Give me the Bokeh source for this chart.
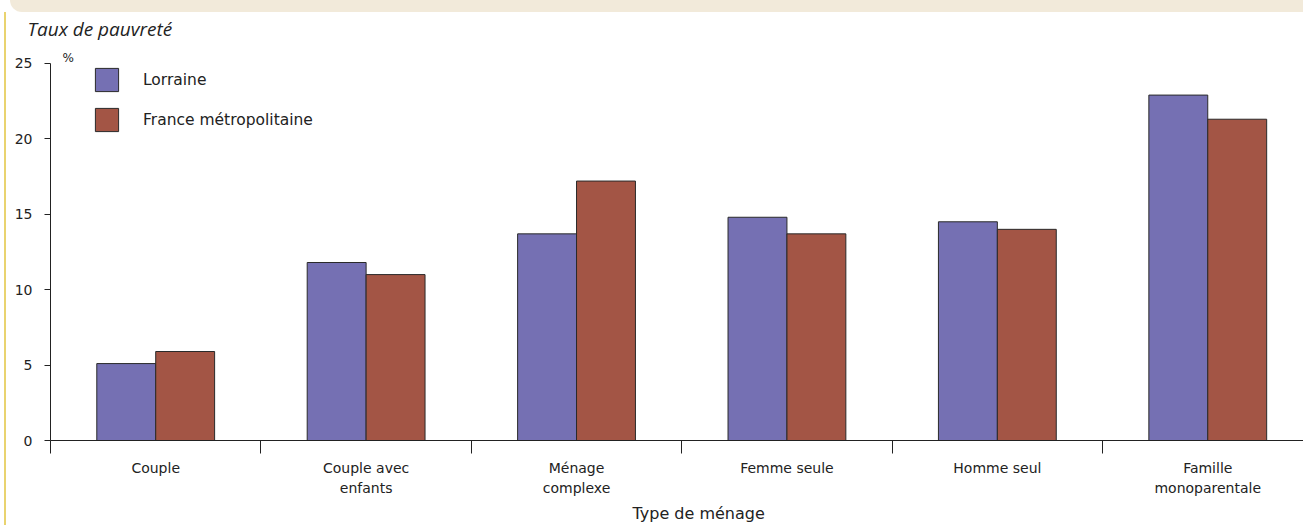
from bokeh.plotting import figure
from bokeh.layouts import column
from bokeh.models import Range1d, FixedTicker, Label, Legend, LegendItem, Title, Div
from bokeh.embed import file_html
from bokeh.resources import INLINE

categories = ["Couple", "Couple avec\nenfants", "Ménage\ncomplexe", "Femme seule", "Homme seul", "Famille\nmonoparentale"]
lorraine = [5.1, 11.8, 13.7, 14.8, 14.5, 22.9]
france = [5.9, 11.0, 17.2, 13.7, 14.0, 21.3]
y_ticks = [0, 5, 10, 15, 20, 25]
series_names = ["Lorraine", "France métropolitaine"]
colors = ["#7570B3", "#A35545"]

FONT = "DejaVu Sans"
TXT = "#222222"

band = Div(text="", width=1293, height=12, margin=(0, 0, 0, 10),
           styles={"background-color": "#F2EADA", "border-bottom-left-radius": "12px"})

p = figure(width=1303, height=513, x_range=Range1d(0, 5.955), y_range=Range1d(0, 26.32),
           output_backend="svg", toolbar_location=None, margin=0,
           min_border_left=50, min_border_right=0, min_border_top=30, min_border_bottom=85)
p.outline_line_color = None
p.xgrid.grid_line_color = None
p.ygrid.grid_line_color = None
p.background_fill_color = "white"
p.border_fill_alpha = 0
p.styles = {"background": "linear-gradient(to right, white 4px, #E9D36F 4px, #E9D36F 6px, white 6px)"}

bw = 0.28
centers = [i + 0.5 for i in range(len(categories))]
r1 = p.vbar(x=[c - bw / 2 for c in centers], top=lorraine, width=bw, bottom=0,
            fill_color=colors[0], line_color="#2a2a2a", line_width=1)
r2 = p.vbar(x=[c + bw / 2 for c in centers], top=france, width=bw, bottom=0,
            fill_color=colors[1], line_color="#2a2a2a", line_width=1)

legend = Legend(items=[LegendItem(label=series_names[0], renderers=[r1]),
                       LegendItem(label=series_names[1], renderers=[r2])],
                location=(42, 306), padding=0, margin=0, spacing=11,
                glyph_width=29, glyph_height=29, label_standoff=22,
                border_line_alpha=0, background_fill_alpha=0,
                label_text_font=FONT, label_text_font_size="15.5px", label_text_color=TXT)
p.add_layout(legend, "center")

# x axis
xa = p.xaxis[0]
xa.ticker = FixedTicker(ticks=centers, minor_ticks=list(range(len(categories) + 1)))
xa.major_label_overrides = {c: cat for c, cat in zip(centers, categories)}
xa.major_tick_out = 0
xa.major_tick_in = 0
xa.minor_tick_out = 13
xa.minor_tick_in = 0
xa.minor_tick_line_color = TXT
xa.axis_line_color = TXT
xa.major_label_standoff = 6
xa.major_label_text_font = FONT
xa.major_label_text_font_size = "14px"
xa.major_label_text_line_height = 1.3
xa.major_label_text_color = TXT

# y axis
ya = p.yaxis[0]
ya.ticker = FixedTicker(ticks=y_ticks)
ya.bounds = (0, 25)
ya.major_tick_out = 6
ya.major_tick_in = 0
ya.minor_tick_out = 0
ya.minor_tick_in = 0
ya.axis_line_color = TXT
ya.major_tick_line_color = TXT
ya.major_label_standoff = 12
ya.major_label_text_font = FONT
ya.major_label_text_font_size = "14px"
ya.major_label_text_color = TXT

p.add_layout(Label(x=0.057, y=25.33, text="%", text_font=FONT, text_font_size="12px",
                   text_color=TXT, text_baseline="alphabetic"))
p.add_layout(Title(text="Taux de pauvreté", align="left", offset=-23, standoff=3,
                   text_font="Open Sans", text_font_style="italic", text_font_size="19px",
                   text_color=TXT), "above")
p.add_layout(Title(text="Type de ménage", align="left", offset=582, standoff=4,
                   text_font=FONT, text_font_style="normal", text_font_size="16px",
                   text_color=TXT), "below")

layout = column(band, p, spacing=0, margin=0)
open("out.html", "w").write(file_html(layout, INLINE))
